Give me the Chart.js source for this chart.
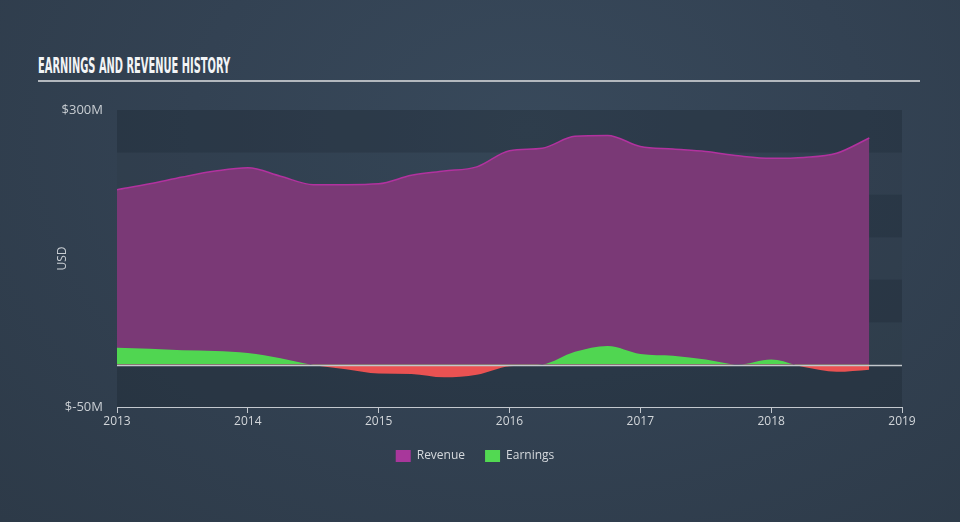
<!DOCTYPE html>
<html>
<head>
<meta charset="utf-8">
<script src="https://cdn.jsdelivr.net/npm/chart.js@4"></script>
<style>
  html, body { margin: 0; padding: 0; }
  body {
    width: 960px; height: 522px; overflow: hidden; position: relative;
    background: radial-gradient(ellipse at 55% 25%, #38495b 0%, #334253 45%, #2d3a48 100%);
    font-family: "Open Sans", Roboto, sans-serif;
  }
  #chart-title {
    position: absolute; left: 38px; top: 54px;
    font-family: "Liberation Sans Narrow", "DejaVu Sans Condensed", sans-serif;
    font-weight: bold; font-size: 21px; color: #f2f4f6;
    white-space: nowrap; transform-origin: 0 0; letter-spacing: 0;
  }
  #title-rule {
    position: absolute; left: 38px; top: 80px; width: 882px; height: 2px;
    background: #b3b8be;
  }
  #wrap { position: absolute; left: 0; top: 0; width: 960px; height: 522px; }
</style>
</head>
<body>
<div id="chart-title">EARNINGS AND REVENUE HISTORY</div>
<div id="title-rule"></div>
<div id="wrap"><canvas id="histChart" width="960" height="522"></canvas></div>

<script>
// ------------------------------------------------------------
// Earnings and revenue history (USD millions, quarterly)
// ------------------------------------------------------------

const periods = [
  2013.00, 2013.25, 2013.50, 2013.75,
  2014.00, 2014.25, 2014.50, 2014.75,
  2015.00, 2015.25, 2015.50, 2015.75,
  2016.00, 2016.25, 2016.50, 2016.75,
  2017.00, 2017.25, 2017.50, 2017.75,
  2018.00, 2018.25, 2018.50, 2018.75
];
const revenue  = [206, 213, 221, 228, 232, 222, 212, 212, 213, 223, 228, 233,
                  252, 255, 269, 270, 257, 254, 251, 246, 243, 244, 249, 267];
const earnings = [19.7, 18.5, 17, 16, 13.5, 7.5, -0.5, -5.5, -10.5, -11, -15, -12,
                  -2, 0, 15, 22, 12.6, 10.5, 6, 0, 6, -3, -8.5, -6];
const yTicks   = [-50, 300];
const xYears   = [2013, 2014, 2015, 2016, 2017, 2018, 2019];
const bandStep = 50;

// squeeze the heading to the condensed width of the original
const titleEl = document.getElementById('chart-title');
titleEl.style.transform = 'scaleX(' + (192 / titleEl.scrollWidth) + ')';

const toPoints = arr => arr.map((v, i) => ({ x: periods[i], y: v }));

const legendColors = { Revenue: '#a8379b', Earnings: '#52d952' };

// alternating horizontal bands behind the plot + the zero line on top
const bandsPlugin = {
  id: 'bands',
  beforeDatasetsDraw(chart) {
    const { ctx, chartArea, scales: { y } } = chart;
    ctx.save();
    let i = 0;
    for (let v = y.min; v < y.max; v += bandStep, i++) {
      const top = y.getPixelForValue(v + bandStep);
      const bot = y.getPixelForValue(v);
      ctx.fillStyle = i % 2 === 0 ? 'rgba(22, 32, 44, 0.30)' : 'rgba(22, 32, 44, 0.08)';
      ctx.fillRect(chartArea.left, top, chartArea.right - chartArea.left, bot - top);
    }
    ctx.restore();
  },
  afterDatasetsDraw(chart) {
    const { ctx, chartArea, scales: { y } } = chart;
    const zy = Math.round(y.getPixelForValue(0)) + 0.5;
    ctx.save();
    ctx.strokeStyle = '#c2c7cc';
    ctx.lineWidth = 1.5;
    ctx.beginPath();
    ctx.moveTo(chartArea.left, zy);
    ctx.lineTo(chartArea.right, zy);
    ctx.stroke();
    ctx.restore();
  }
};

const ctx = document.getElementById('histChart');

new Chart(ctx, {
  type: 'line',
  data: {
    datasets: [
      {
        label: 'Earnings',
        data: toPoints(earnings),
        backgroundColor: '#52d952',
        borderWidth: 0,
        pointRadius: 0,
        cubicInterpolationMode: 'monotone',
        fill: { target: 'origin', above: '#50d651', below: '#ea5252' }
      },
      {
        label: 'Revenue',
        data: toPoints(revenue),
        borderColor: '#b2329f',
        backgroundColor: '#7a3976',
        borderWidth: 1.5,
        pointRadius: 0,
        cubicInterpolationMode: 'monotone',
        fill: 'origin'
      }
    ]
  },
  options: {
    responsive: false,
    animation: false,
    layout: { padding: { top: 110, right: 58, bottom: 50, left: 48 } },
    plugins: {
      tooltip: { enabled: false },
      legend: {
        position: 'bottom',
        reverse: true,
        labels: {
          color: '#d5d9dd',
          font: { size: 12, family: 'Open Sans' },
          boxWidth: 15,
          boxHeight: 12,
          padding: 20,
          generateLabels(chart) {
            return chart.data.datasets.map((d, i) => ({
              text: d.label,
              fillStyle: legendColors[d.label],
              strokeStyle: legendColors[d.label],
              lineWidth: 0,
              fontColor: '#d5d9dd',
              datasetIndex: i
            }));
          }
        }
      }
    },
    scales: {
      x: {
        type: 'linear',
        min: 2013,
        max: 2019,
        afterFit: s => { s.height = 23; },
        afterBuildTicks: s => { s.ticks = xYears.map(v => ({ value: v })); },
        grid: { display: true, drawOnChartArea: false, drawTicks: true, tickLength: 6, color: '#c3c8ce' },
        border: { display: true, color: '#c3c8ce', width: 1 },
        ticks: {
          color: '#d2d6da',
          font: { size: 12, family: 'Open Sans' },
          padding: 1,
          maxRotation: 0,
          callback: v => String(v)
        }
      },
      y: {
        min: -50,
        max: 300,
        afterFit: s => { s.width = 69; },
        afterBuildTicks: s => { s.ticks = yTicks.map(v => ({ value: v })); },
        grid: { display: false },
        border: { display: false },
        ticks: {
          color: '#c8cdd2',
          font: { size: 13, family: 'Open Sans' },
          padding: 6,
          callback: v => '$' + v + 'M'
        },
        title: {
          display: true,
          text: 'USD',
          color: '#c8cdd2',
          font: { size: 12, family: 'Open Sans' },
          padding: { top: 7, bottom: 0 }
        }
      }
    }
  },
  plugins: [bandsPlugin]
});
</script>
</body>
</html>
